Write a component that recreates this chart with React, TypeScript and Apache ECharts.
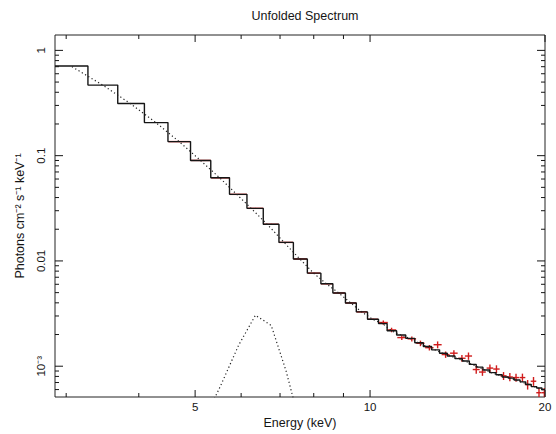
import React, { useEffect, useRef } from 'react';
import * as echarts from 'echarts';

const TITLE = 'Unfolded Spectrum';
const X_NAME = 'Energy (keV)';
const Y_NAME = 'Photons cm⁻² s⁻¹ keV⁻¹';

const X_MIN = 2.87;
const X_MAX = 20;
const Y_MIN = 5.1e-4;
const Y_MAX = 1.4;

// axis ticks
const xMajorTicks = [5, 10, 20];
const xTickLabels = ['5', '10', '20'];
const xMinorTicks = [3, 4, 6, 7, 8, 9];
const yMajorTicks = [1, 0.1, 0.01, 0.001];
const yTickLabels = ['1', '0.1', '0.01', '10⁻³'];
const yMinorTicks = [
  0.9, 0.8, 0.7, 0.6, 0.5, 0.4, 0.3, 0.2,
  0.09, 0.08, 0.07, 0.06, 0.05, 0.04, 0.03, 0.02,
  0.009, 0.008, 0.007, 0.006, 0.005, 0.004, 0.003, 0.002,
  0.0009, 0.0008, 0.0007, 0.0006,
];

// binned total model (step histogram): bin edges (keV) and values
const modelEdges = [
  2.87, 3.27, 3.68, 4.09, 4.49, 4.91, 5.32, 5.73, 6.14, 6.55, 6.97, 7.38, 7.8, 8.23,
  8.63, 9.07, 9.47, 9.9, 10.34, 10.7, 11.11, 11.52, 11.94, 12.35, 12.76, 13.17, 13.58,
  14.0, 14.41, 14.82, 15.23, 15.64, 16.06, 16.47, 16.88, 17.29, 17.7, 18.12, 18.53,
  18.94, 19.35, 19.76, 20.0,
];
const modelValues = [
  0.711, 0.468, 0.313, 0.206, 0.136, 0.0901, 0.0616, 0.0429, 0.0316, 0.0223, 0.015,
  0.01044, 0.00766, 0.00607, 0.00496, 0.00399, 0.00328, 0.00279, 0.00254, 0.00217,
  0.00198, 0.00184, 0.00167, 0.00154, 0.00143, 0.00133, 0.00125, 0.00118, 0.00112,
  0.00104, 0.00098, 0.00092, 0.00087, 0.00083, 0.00079, 0.00077, 0.00074, 0.00071,
  0.00067, 0.00064, 0.00062, 0.0006,
];

// continuum component (dotted), at bin centres
const contE = [
  3.07, 3.48, 3.88, 4.29, 4.7, 5.12, 5.53, 5.94, 6.35, 6.76, 7.17, 7.59, 8.01, 8.43,
  8.85, 9.27, 9.68, 10.12, 10.52, 10.9, 11.32, 11.73, 12.14, 12.55, 12.97, 13.38, 13.79,
  14.2, 14.62, 15.03, 15.44, 15.85, 16.26, 16.67, 17.08, 17.5, 17.91, 18.32, 18.74,
  19.15, 19.56, 19.88,
];
const contV = [
  0.7, 0.462, 0.309, 0.204, 0.135, 0.089, 0.0605, 0.0412, 0.0288, 0.0203, 0.0143,
  0.0103, 0.00758, 0.00601, 0.00492, 0.00397, 0.00327, 0.00278, 0.00253, 0.00216,
  0.00197, 0.00183, 0.00166, 0.00153, 0.00142, 0.00132, 0.00124, 0.00117, 0.00111,
  0.00103, 0.00097, 0.00091, 0.00086, 0.00082, 0.00079, 0.00076, 0.00073, 0.0007,
  0.00067, 0.00064, 0.00061, 0.00059,
];

// iron line component (dotted)
const lineE = [5.12, 5.53, 5.94, 6.35, 6.76, 7.17, 7.59];
const lineV = [0.00027, 0.00065, 0.00158, 0.00305, 0.00244, 0.0009, 0.00027];

// unfolded data (red crosses)
const dataE = [
  4.7, 5.12, 5.53, 5.94, 6.35, 6.76, 7.17, 7.59, 8.01, 8.43, 8.85, 9.27, 9.68, 10.12,
  10.54, 10.89, 11.34, 11.8, 12.21, 12.65, 13.07, 13.49, 13.94, 14.39, 14.77, 15.23,
  15.61, 16.08, 16.5, 16.97, 17.4, 17.83, 18.29, 18.67, 19.11, 19.53, 19.95,
];
const dataV = [
  0.136, 0.0901, 0.0616, 0.0429, 0.0316, 0.0223, 0.015, 0.01044, 0.00766, 0.00607,
  0.00496, 0.00399, 0.00328, 0.00279,
  0.0026, 0.00221, 0.00187, 0.00182, 0.00165, 0.0015, 0.0016, 0.00129, 0.00133,
  0.00119, 0.00125, 0.00093, 0.00088, 0.00096, 0.00094, 0.00081, 0.00079, 0.00078,
  0.00078, 0.00067, 0.00072, 0.00056, 0.00056,
];
const dataEErr = [
  0.2, 0.2, 0.2, 0.2, 0.2, 0.2, 0.2, 0.2, 0.2, 0.2, 0.2, 0.2, 0.2, 0.2,
  0.19, 0.2, 0.2, 0.2, 0.2, 0.21, 0.21, 0.21, 0.21, 0.21, 0.21, 0.21, 0.21, 0.21,
  0.21, 0.21, 0.21, 0.21, 0.21, 0.21, 0.21, 0.21, 0.21,
];
const dataVErr = [
  0.0014, 0.0009, 0.0006, 0.0004, 0.0003, 0.0002, 0.00015, 0.0001, 0.00008, 0.00006,
  0.00005, 0.00004, 0.00003, 0.00003,
  0.00012, 0.00011, 0.0001, 0.0001, 0.0001, 0.00009, 0.00012, 0.00009, 0.00009,
  0.00009, 0.0001, 0.00008, 0.00007, 0.00008, 0.00008, 0.00007, 0.00007, 0.00007,
  0.00007, 0.00007, 0.00007, 0.00006, 0.00006,
];

const FONT = "'Liberation Sans', Helvetica, Arial, sans-serif";
const INK = '#151515';
const RED = '#d01c1c';

export default function App() {
  const ref = useRef<HTMLDivElement>(null);

  useEffect(() => {
    if (!ref.current) return;
    const chart = echarts.init(ref.current, null, { renderer: 'svg' });

    const stepData = modelEdges.map((e, i) => [
      e,
      modelValues[Math.min(i, modelValues.length - 1)],
    ]);
    const contData = contE.map((e, i) => [e, contV[i]]);
    const lineData = lineE.map((e, i) => [e, lineV[i]]);
    const crossData = dataE.map((e, i) => [e, dataV[i], dataEErr[i], dataVErr[i]]);

    const xTickData = [
      ...xMajorTicks.map((v, i) => [v, Y_MAX, 1, i]),
      ...xMinorTicks.map((v) => [v, Y_MAX, 0, -1]),
    ];
    const yTickData = [
      ...yMajorTicks.map((v, i) => [X_MIN, v, 1, i]),
      ...yMinorTicks.map((v) => [X_MIN, v, 0, -1]),
    ];

    const option: any = {
      animation: false,
      backgroundColor: '#ffffff',
      title: {
        text: TITLE,
        left: 300,
        top: 4,
        textAlign: 'center',
        textStyle: { fontFamily: FONT, fontSize: 12.5, fontWeight: 'normal', color: INK },
      },
      grid: {
        left: 55,
        right: 11,
        top: 35,
        bottom: 35,
        show: true,
        borderColor: '#222',
        borderWidth: 1,
        backgroundColor: 'transparent',
      },
      xAxis: {
        type: 'log',
        min: X_MIN,
        max: X_MAX,
        axisLine: { show: false },
        axisTick: { show: false },
        axisLabel: { show: false },
        splitLine: { show: false },
        name: X_NAME,
        nameLocation: 'middle',
        nameGap: 19,
        nameTextStyle: { fontFamily: FONT, fontSize: 12.5, color: INK },
      },
      yAxis: {
        type: 'log',
        min: Y_MIN,
        max: Y_MAX,
        axisLine: { show: false },
        axisTick: { show: false },
        axisLabel: { show: false },
        splitLine: { show: false },
        name: Y_NAME,
        nameLocation: 'middle',
        nameGap: 29,
        nameTextStyle: { fontFamily: FONT, fontSize: 12.5, color: INK },
      },
      series: [
        {
          type: 'custom',
          name: 'data',
          clip: true,
          z: 2,
          encode: { x: 0, y: 1 },
          data: crossData,
          renderItem: (_p: any, api: any) => {
            const e = api.value(0);
            const v = api.value(1);
            const de = api.value(2);
            const dv = api.value(3);
            const l = api.coord([e - de, v]);
            const r = api.coord([e + de, v]);
            const t = api.coord([e, v + dv]);
            const b = api.coord([e, v - dv]);
            const style = { stroke: RED, lineWidth: 1.4 };
            return {
              type: 'group',
              children: [
                { type: 'line', shape: { x1: l[0], y1: l[1], x2: r[0], y2: r[1] }, style },
                { type: 'line', shape: { x1: t[0], y1: t[1], x2: b[0], y2: b[1] }, style },
              ],
            };
          },
        },
        {
          type: 'line',
          name: 'model',
          step: 'end',
          z: 3,
          data: stepData,
          showSymbol: false,
          symbol: 'none',
          lineStyle: { color: INK, width: 1.4 },
        },
        {
          type: 'line',
          name: 'continuum',
          z: 4,
          data: contData,
          symbol: 'none',
          lineStyle: { color: '#222', width: 1.2, type: [1.2, 2.6] },
        },
        {
          type: 'line',
          name: 'line',
          z: 4,
          data: lineData,
          symbol: 'none',
          lineStyle: { color: '#222', width: 1.2, type: [1.2, 2.6] },
        },
        {
          type: 'custom',
          name: 'xticks',
          clip: false,
          z: 5,
          encode: { x: 0, y: 1 },
          data: xTickData,
          renderItem: (_p: any, api: any) => {
            const v = api.value(0);
            const major = api.value(2) === 1;
            const li = api.value(3);
            const b = api.coord([v, Y_MIN]);
            const t = api.coord([v, Y_MAX]);
            const len = major ? 7 : 4;
            const style = { stroke: INK, lineWidth: 1 };
            const children: any[] = [
              { type: 'line', shape: { x1: b[0], y1: b[1], x2: b[0], y2: b[1] - len }, style },
              { type: 'line', shape: { x1: t[0], y1: t[1], x2: t[0], y2: t[1] + len }, style },
            ];
            if (major && li >= 0) {
              children.push({
                type: 'text',
                x: b[0],
                y: b[1] + 4,
                style: {
                  text: xTickLabels[li],
                  fontFamily: FONT,
                  fontSize: 11.5,
                  fill: INK,
                  align: 'center',
                  verticalAlign: 'top',
                },
              });
            }
            return { type: 'group', children };
          },
        },
        {
          type: 'custom',
          name: 'yticks',
          clip: false,
          z: 5,
          encode: { x: 0, y: 1 },
          data: yTickData,
          renderItem: (_p: any, api: any) => {
            const v = api.value(1);
            const major = api.value(2) === 1;
            const li = api.value(3);
            const l = api.coord([X_MIN, v]);
            const r = api.coord([X_MAX, v]);
            const len = major ? 8 : 4;
            const style = { stroke: INK, lineWidth: 1 };
            const children: any[] = [
              { type: 'line', shape: { x1: l[0], y1: l[1], x2: l[0] + len, y2: l[1] }, style },
              { type: 'line', shape: { x1: r[0], y1: r[1], x2: r[0] - len, y2: r[1] }, style },
            ];
            if (major && li >= 0) {
              children.push({
                type: 'text',
                x: l[0] - 14,
                y: l[1],
                rotation: Math.PI / 2,
                style: {
                  text: yTickLabels[li],
                  fontFamily: FONT,
                  fontSize: 11.5,
                  fill: INK,
                  align: 'center',
                  verticalAlign: 'middle',
                },
              });
            }
            return { type: 'group', children };
          },
        },
      ],
    };

    chart.setOption(option);
    return () => chart.dispose();
  }, []);

  return (
    <div
      ref={ref}
      style={{ position: 'fixed', left: 0, top: 0, width: 556, height: 434, background: '#fff' }}
    />
  );
}
